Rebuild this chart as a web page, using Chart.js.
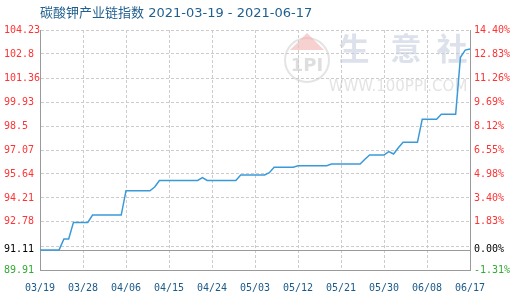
<!DOCTYPE html>
<html>
<head>
<meta charset="utf-8">
<script src="https://cdn.jsdelivr.net/npm/chart.js@4/dist/chart.umd.min.js"></script>
<style>
  html, body { margin: 0; padding: 0; background: #ffffff; }
  #wrap { width: 520px; height: 300px; }
</style>
</head>
<body>
<div id="wrap"><canvas id="c" width="520" height="300"></canvas></div>
<script>
// Potassium carbonate industry-chain index, daily, 2021-03-19 .. 2021-06-17
const titleText = '碳酸钾产业链指数 2021-03-19 - 2021-06-17';

const dates = [
  '03/19','03/20','03/21','03/22','03/23','03/24','03/25','03/26','03/27','03/28','03/29','03/30','03/31',
  '04/01','04/02','04/03','04/04','04/05','04/06','04/07','04/08','04/09','04/10','04/11','04/12','04/13','04/14','04/15',
  '04/16','04/17','04/18','04/19','04/20','04/21','04/22','04/23','04/24','04/25','04/26','04/27','04/28','04/29','04/30',
  '05/01','05/02','05/03','05/04','05/05','05/06','05/07','05/08','05/09','05/10','05/11','05/12','05/13','05/14','05/15',
  '05/16','05/17','05/18','05/19','05/20','05/21','05/22','05/23','05/24','05/25','05/26','05/27','05/28','05/29','05/30',
  '05/31','06/01','06/02','06/03','06/04','06/05','06/06','06/07','06/08','06/09','06/10','06/11','06/12','06/13','06/14',
  '06/15','06/16','06/17'
];

const indexValues = [
  91.11, 91.11, 91.11, 91.11, 91.11, 91.76, 91.76, 92.75, 92.75, 92.75, 92.75, 93.19, 93.19,
  93.19, 93.19, 93.19, 93.19, 93.19, 94.64, 94.64, 94.64, 94.64, 94.64, 94.64, 94.86, 95.25, 95.25, 95.25,
  95.25, 95.25, 95.25, 95.25, 95.25, 95.25, 95.42, 95.25, 95.25, 95.25, 95.25, 95.25, 95.25, 95.25, 95.58,
  95.58, 95.58, 95.58, 95.58, 95.58, 95.72, 96.04, 96.04, 96.04, 96.04, 96.04, 96.13, 96.13, 96.13, 96.13,
  96.13, 96.13, 96.13, 96.23, 96.23, 96.23, 96.23, 96.23, 96.23, 96.23, 96.52, 96.77, 96.77, 96.77, 96.77,
  96.97, 96.83, 97.20, 97.53, 97.53, 97.53, 97.53, 98.90, 98.90, 98.90, 98.90, 99.20, 99.20, 99.20, 99.20,
  102.60, 103.03, 103.10
];

// reference level (0.00%)
const baseValue = 91.11;
const baseLeftLabel = '91.11';
const baseRightLabel = '0.00%';

const yMin = 89.91;
const yMax = 104.23;
const leftTickValues = [104.23, 102.8, 101.36, 99.93, 98.5, 97.07, 95.64, 94.21, 92.78, 91.34, 89.91];
const leftTickLabels = ['104.23', '102.8', '101.36', '99.93', '98.5', '97.07', '95.64', '94.21', '92.78', '', '89.91'];
const rightTickLabels = ['14.40%', '12.83%', '11.26%', '9.69%', '8.12%', '6.55%', '4.98%', '3.40%', '1.83%', '', '-1.31%'];

const xLabelStep = 9;

const tickFont = { family: '"DejaVu Sans Mono", "Liberation Mono", monospace', size: 10 };
const gridColor = '#cccccc';
const frameColor = '#9a9a9a';

function tickColor(ctx) {
  const v = ctx.tick ? ctx.tick.value : 0;
  if (v === baseValue) return '#000000';
  return v > baseValue ? '#ff3333' : '#33aa33';
}

function buildYTicks(scale) {
  scale.ticks = leftTickValues.map(v => ({ value: v })).concat([{ value: baseValue }]);
}

// background watermark + title
const decorPlugin = {
  id: 'decor',
  beforeDraw(chart) {
    const ctx = chart.ctx;
    const a = chart.chartArea;
    ctx.save();
    ctx.fillStyle = '#ffffff';
    ctx.fillRect(0, 0, chart.width, chart.height);

    // faint site mark
    ctx.strokeStyle = 'rgba(205,205,205,0.55)';
    ctx.lineWidth = 2;
    ctx.beginPath();
    ctx.arc(307, 60, 22, 0, Math.PI * 2);
    ctx.stroke();
    ctx.fillStyle = 'rgba(240,170,170,0.55)';
    ctx.beginPath();
    ctx.moveTo(307, 33);
    ctx.lineTo(290, 50);
    ctx.lineTo(324, 50);
    ctx.closePath();
    ctx.fill();
    ctx.fillStyle = 'rgba(200,200,200,0.6)';
    ctx.font = 'bold 18px "DejaVu Sans", sans-serif';
    ctx.textAlign = 'center';
    ctx.textBaseline = 'middle';
    ctx.fillText('1PI', 307, 66);

    ctx.fillStyle = 'rgba(205,212,228,0.7)';
    ctx.font = 'bold 31px "Noto Sans CJK SC", sans-serif';
    ctx.fillText('生', 354, 48);
    ctx.fillText('意', 406, 48);
    ctx.fillText('社', 452, 48);
    ctx.fillStyle = 'rgba(212,212,212,0.65)';
    ctx.font = '15px "DejaVu Sans", sans-serif';
    ctx.fillText('WWW.100PPI.COM', 398, 87);

    // title
    ctx.fillStyle = '#1f5f8f';
    ctx.font = '13px "DejaVu Sans", "Noto Sans CJK SC", sans-serif';
    ctx.textAlign = 'left';
    ctx.textBaseline = 'middle';
    ctx.fillText(titleText, a.left, 14);
    ctx.restore();
  },
  beforeDatasetsDraw(chart) {
    // solid reference line at the base level
    const ctx = chart.ctx;
    const a = chart.chartArea;
    const y = Math.round(chart.scales.y.getPixelForValue(baseValue)) + 0.5;
    ctx.save();
    ctx.strokeStyle = frameColor;
    ctx.lineWidth = 1;
    ctx.beginPath();
    ctx.moveTo(a.left, y);
    ctx.lineTo(a.right, y);
    ctx.stroke();
    ctx.restore();
  }
};

new Chart(document.getElementById('c'), {
  type: 'line',
  data: {
    labels: dates,
    datasets: [{
      data: indexValues,
      borderColor: '#3a9ad9',
      borderWidth: 1.5,
      pointRadius: 0,
      tension: 0,
      fill: false,
      yAxisID: 'y'
    }]
  },
  options: {
    responsive: false,
    devicePixelRatio: 1,
    animation: false,
    layout: { padding: { top: 30, left: 4, right: 0, bottom: 0 } },
    plugins: {
      legend: { display: false },
      tooltip: { enabled: false },
      title: { display: false }
    },
    scales: {
      x: {
        type: 'category',
        offset: false,
        afterBuildTicks(scale) {
          scale.ticks = scale.ticks.filter(t => t.value % xLabelStep === 0);
        },
        afterFit(scale) { scale.height = 30; },
        grid: { color: gridColor, drawTicks: false, lineWidth: 1 },
        border: { display: true, color: frameColor, width: 1, dash: [3, 2] },
        ticks: {
          autoSkip: false,
          maxRotation: 0,
          minRotation: 0,
          padding: 12,
          color: '#1a5a8a',
          font: tickFont
        }
      },
      y: {
        type: 'linear',
        position: 'left',
        min: yMin,
        max: yMax,
        afterBuildTicks: buildYTicks,
        afterFit(scale) { scale.width = 36; },
        grid: {
          drawTicks: false,
          lineWidth: 1,
          color: ctx => (ctx.tick && ctx.tick.value === baseValue) ? 'rgba(0,0,0,0)' : gridColor
        },
        border: { display: true, color: frameColor, width: 1, dash: [3, 2] },
        ticks: {
          autoSkip: false,
          crossAlign: 'far',
          padding: 0,
          color: tickColor,
          font: tickFont,
          callback: (value, index) => index < leftTickLabels.length ? leftTickLabels[index] : baseLeftLabel
        }
      },
      y2: {
        type: 'linear',
        position: 'right',
        min: yMin,
        max: yMax,
        afterBuildTicks: buildYTicks,
        afterFit(scale) { scale.width = 50; },
        grid: { drawOnChartArea: false, drawTicks: false },
        border: { display: true, color: frameColor, width: 1 },
        ticks: {
          autoSkip: false,
          crossAlign: 'near',
          padding: 4,
          color: tickColor,
          font: tickFont,
          callback: (value, index) => index < rightTickLabels.length ? rightTickLabels[index] : baseRightLabel
        }
      }
    }
  },
  plugins: [decorPlugin]
});
</script>
</body>
</html>
